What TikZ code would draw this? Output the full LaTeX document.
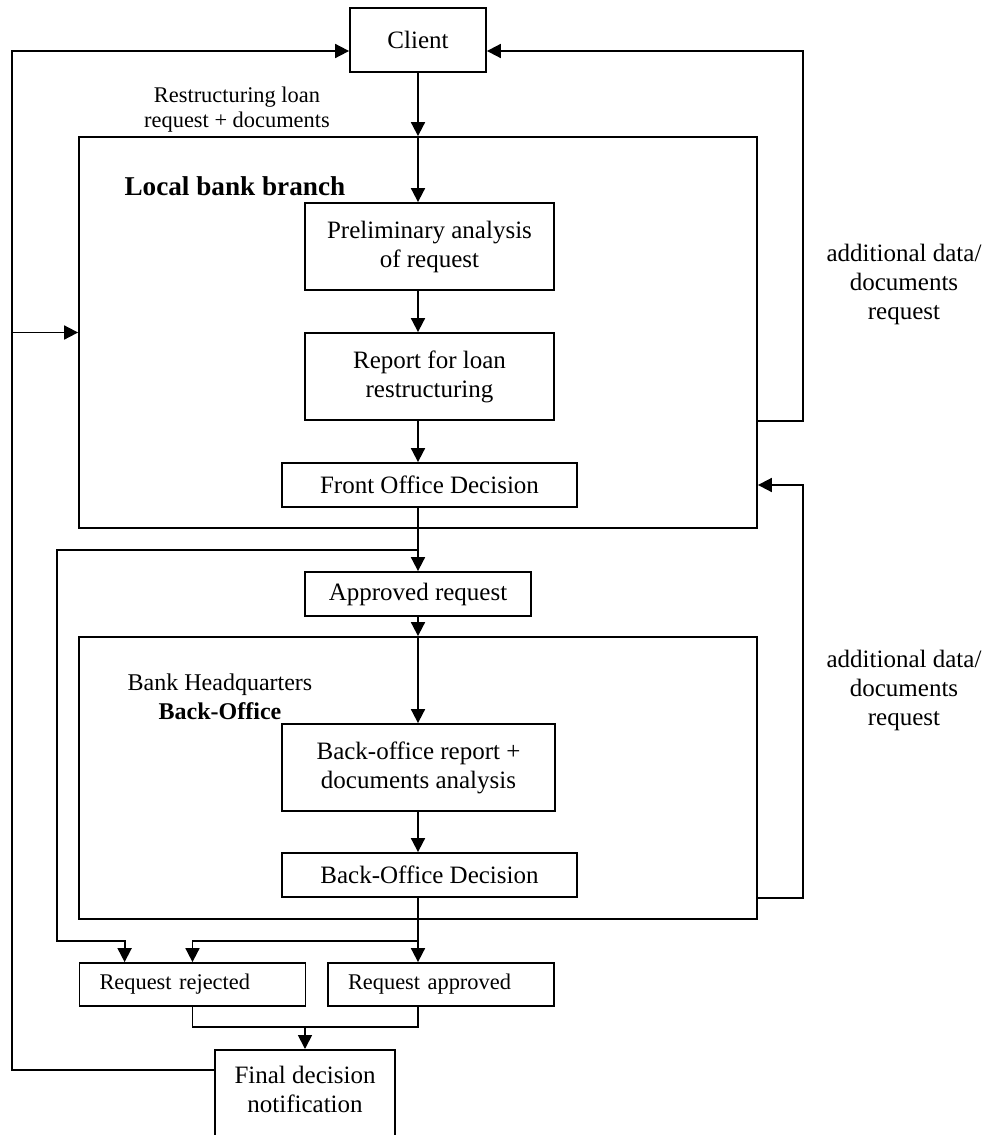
\documentclass[tikz,border=0pt]{standalone}
\usepackage{fontspec}
\setmainfont{Liberation Serif}
\usetikzlibrary{arrows.meta,positioning}

\begin{document}
\begin{tikzpicture}[x=0.5pt,y=-0.5pt,line width=0.9pt,
    >={Triangle[length=7pt,width=7pt]},
    box/.style={draw,align=center,inner sep=2pt,font=\fontsize{12.5}{14.5}\selectfont},
    wide/.style={box,minimum width=124.5pt,minimum height=43.5pt},
    slim/.style={box,minimum width=147.5pt,minimum height=22pt},
    outcome/.style={draw,text width=93pt,align=left,inner xsep=10pt,minimum height=21.5pt,font=\fontsize{11.2}{12.5}\selectfont},
    frame/.style={draw,minimum width=339pt},
    note/.style={align=center,font=\fontsize{12.5}{14.5}\selectfont}]
    \useasboundingbox (0,0) rectangle (988,1135);
    \clip (0,0) rectangle (988,1135);

    % frames
    \node[frame,minimum height=195.5pt] (local) at (418,332.5) {};
    \node[frame,minimum height=141pt] (hq) at (418,778) {};
    \node[anchor=base west,font=\bfseries\fontsize{13.6}{16}\selectfont] (branchlbl) at (117,195) {Local bank branch};
    \node[note,font=\fontsize{12}{14.5}\selectfont] (hqlbl) at (220,697) {Bank Headquarters\\\textbf{Back-Office}};

    % boxes
    \node[box,minimum width=68pt,minimum height=32pt] (client) at (418,40) {Client};
    \node[wide] (prelim) at (429.5,246.5) {Preliminary analysis\\of request};
    \node[wide] (report) at (429.5,376.5) {Report for loan\\restructuring};
    \node[slim] (frontdec) at (429.5,485) {Front Office Decision};
    \node[box,minimum width=113pt,minimum height=22pt] (approved) at (418,594) {Approved request};
    \node[box,minimum width=136.5pt,minimum height=43.5pt] (boreport) at (418.5,767.5) {Back-office report +\\documents analysis};
    \node[slim] (bodec) at (429.5,875) {Back-Office Decision};
    \node[outcome] (rejected) at (192.5,984.5) {Request rejected};
    \node[outcome] (accepted) at (441,984.5) {Request approved};
    \node[box,anchor=north,minimum width=90pt,inner ysep=8pt,text depth=40pt] (final) at (305,1049) {Final decision\\notification};

    % labels
    \node[note,font=\fontsize{11.2}{12.5}\selectfont] (reqlbl) at (237,110) {Restructuring loan\\request + documents};
    \node[note] (morelbl1) at (904,284) {additional data/\\documents\\request};
    \node[note] (morelbl2) at (904,690) {additional data/\\documents\\request};

    % lanes and bends
    \coordinate (lft) at (12,0);
    \coordinate (lane) at (57,0);
    \coordinate (rgt) at (803,0);
    \coordinate (fork) at (418,550);
    \coordinate (split) at (418,941);
    \coordinate (join) at (305,1027);
    \coordinate (clin) at ([yshift=-5.5pt]client.west);
    \coordinate (crin) at ([yshift=-5.5pt]client.east);

    % main flow
    \draw[->] (client.south) -- (client.south |- local.north);
    \draw[->] (client.south |- local.north) -- (client.south |- prelim.north);
    \draw[->] (client.south |- prelim.south) -- (client.south |- report.north);
    \draw[->] (client.south |- report.south) -- (client.south |- frontdec.north);
    \draw[->] (client.south |- frontdec.south) -- (approved.north);
    \draw[->] (approved.south) -- (hq.north);
    \draw[->] (hq.north) -- (hq.north |- boreport.north);
    \draw[->] (hq.north |- boreport.south) -- (hq.north |- bodec.north);
    \draw[->] (hq.north |- bodec.south) -- (hq.north |- accepted.north);
    \draw[->] (split) -| (rejected.north);
    \draw[->] (fork) -| (lane |- split) -| ([xshift=23pt]rejected.north west);
    \draw (rejected.south) |- (join) -| (hq.north |- accepted.south);
    \draw[->] (join) -- (final.north);

    % loops back
    \draw[->] ([yshift=-10.5pt]final.north west) -| (lft |- clin) -- (clin);
    \draw[->] (lft |- local.west) -- (local.west);
    \draw[->] (local.east |- report.south) -| (rgt |- crin) -- (crin);
    \draw[->] (hq.east |- bodec.south) -| (rgt |- frontdec.east) -- (local.east |- frontdec.east);
\end{tikzpicture}
\end{document}
